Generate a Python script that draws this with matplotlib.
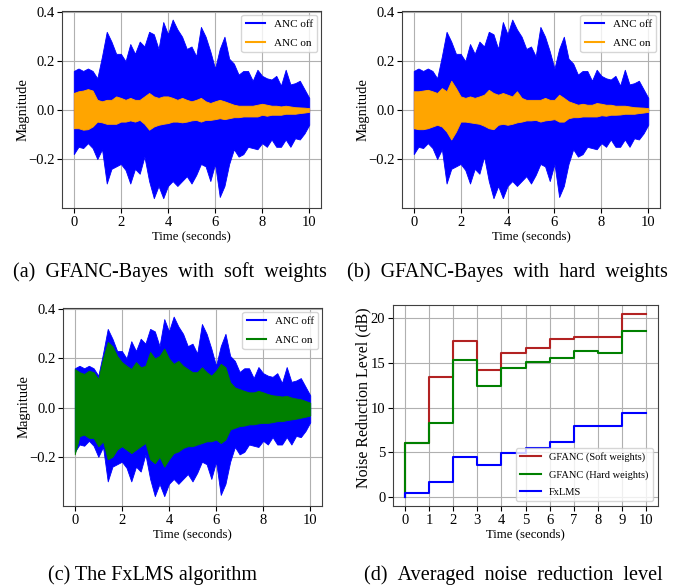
import numpy as np
import matplotlib
matplotlib.use("Agg")
import matplotlib.pyplot as plt
from matplotlib.lines import Line2D

plt.rcParams['font.family'] = ['Liberation Serif', 'DejaVu Serif']

# time grid of the envelope readings (seconds)
t_env = np.linspace(0, 10, 51)

# reference noise (ANC off), upper / lower envelope
off_up = [0.16, 0.17, 0.16, 0.17, 0.16, 0.13, 0.22, 0.32, 0.28, 0.23,
          0.23, 0.20, 0.27, 0.23, 0.28, 0.26, 0.32, 0.31, 0.25, 0.36,
          0.31, 0.37, 0.33, 0.30, 0.25, 0.26, 0.22, 0.34, 0.30, 0.24,
          0.17, 0.25, 0.30, 0.21, 0.19, 0.145, 0.16, 0.16, 0.12, 0.165,
          0.14, 0.13, 0.125, 0.14, 0.10, 0.165, 0.105, 0.11, 0.12, 0.085, 0.05]
off_lo = [-0.18, -0.15, -0.155, -0.135, -0.155, -0.20, -0.16, -0.30, -0.24, -0.23,
          -0.22, -0.245, -0.30, -0.24, -0.26, -0.19, -0.29, -0.36, -0.31, -0.36,
          -0.31, -0.29, -0.31, -0.29, -0.27, -0.30, -0.265, -0.22, -0.23, -0.29,
          -0.22, -0.355, -0.31, -0.22, -0.16, -0.19, -0.18, -0.15, -0.155, -0.16,
          -0.135, -0.15, -0.12, -0.15, -0.15, -0.12, -0.15, -0.115, -0.12, -0.095, -0.06]

# GFANC-Bayes, soft weights (ANC on)
soft_up = [0.070, 0.077, 0.080, 0.086, 0.080, 0.042, 0.036, 0.042, 0.042, 0.056,
           0.050, 0.042, 0.050, 0.042, 0.042, 0.056, 0.070, 0.056, 0.050, 0.056,
           0.056, 0.050, 0.042, 0.050, 0.042, 0.036, 0.042, 0.050, 0.036, 0.029,
           0.036, 0.042, 0.036, 0.029, 0.022, 0.018, 0.018, 0.018, 0.018, 0.022,
           0.026, 0.022, 0.018, 0.018, 0.015, 0.018, 0.015, 0.012, 0.011, 0.010, 0.008]
soft_lo = [-0.074, -0.074, -0.080, -0.078, -0.067, -0.047, -0.050, -0.056, -0.056, -0.056,
           -0.047, -0.047, -0.042, -0.047, -0.040, -0.056, -0.080, -0.067, -0.060, -0.056,
           -0.053, -0.047, -0.047, -0.050, -0.047, -0.042, -0.040, -0.047, -0.040, -0.040,
           -0.037, -0.033, -0.037, -0.033, -0.029, -0.029, -0.026, -0.026, -0.026, -0.026,
           -0.019, -0.023, -0.019, -0.019, -0.019, -0.015, -0.015, -0.015, -0.012, -0.010, -0.007]

# GFANC-Bayes, hard weights (ANC on)
hard_up = [0.077, 0.077, 0.080, 0.083, 0.077, 0.070, 0.090, 0.077, 0.120, 0.090,
           0.056, 0.050, 0.056, 0.050, 0.056, 0.063, 0.083, 0.070, 0.063, 0.070,
           0.063, 0.056, 0.077, 0.050, 0.042, 0.042, 0.042, 0.042, 0.050, 0.042,
           0.042, 0.063, 0.050, 0.036, 0.029, 0.022, 0.026, 0.022, 0.022, 0.029,
           0.026, 0.022, 0.022, 0.018, 0.018, 0.018, 0.015, 0.012, 0.011, 0.010, 0.008]
hard_lo = [-0.074, -0.078, -0.078, -0.074, -0.067, -0.060, -0.067, -0.088, -0.120, -0.088,
           -0.047, -0.047, -0.050, -0.053, -0.056, -0.064, -0.074, -0.078, -0.060, -0.056,
           -0.060, -0.056, -0.050, -0.047, -0.042, -0.042, -0.040, -0.047, -0.042, -0.040,
           -0.037, -0.047, -0.047, -0.033, -0.029, -0.029, -0.026, -0.026, -0.026, -0.026,
           -0.021, -0.023, -0.019, -0.019, -0.018, -0.015, -0.015, -0.015, -0.012, -0.010, -0.007]

# FxLMS (ANC on)
fxlms_up = [0.157, 0.144, 0.137, 0.150, 0.144, 0.116, 0.200, 0.267, 0.250, 0.210,
            0.185, 0.170, 0.157, 0.185, 0.164, 0.170, 0.226, 0.200, 0.210, 0.240,
            0.200, 0.178, 0.190, 0.170, 0.157, 0.144, 0.144, 0.164, 0.144, 0.130,
            0.150, 0.178, 0.164, 0.103, 0.082, 0.075, 0.068, 0.062, 0.062, 0.068,
            0.062, 0.055, 0.050, 0.048, 0.045, 0.048, 0.041, 0.037, 0.034, 0.027, 0.020]
fxlms_lo = [-0.190, -0.116, -0.110, -0.123, -0.123, -0.157, -0.137, -0.210, -0.200, -0.170,
            -0.157, -0.171, -0.185, -0.171, -0.157, -0.144, -0.210, -0.226, -0.200, -0.240,
            -0.210, -0.185, -0.178, -0.164, -0.157, -0.157, -0.150, -0.144, -0.137, -0.137,
            -0.130, -0.144, -0.130, -0.089, -0.082, -0.075, -0.073, -0.068, -0.068, -0.064,
            -0.062, -0.062, -0.059, -0.055, -0.055, -0.051, -0.048, -0.045, -0.041, -0.037, -0.032]

# averaged noise reduction level (dB), one value per second
sec = np.arange(0, 11)
nr_soft = [0, 6.0, 13.36, 17.41, 14.22, 16.1, 16.66, 17.67, 17.86, 17.9, 20.45]
nr_hard = [0, 6.0, 8.29, 15.31, 12.46, 14.37, 15.08, 15.57, 16.32, 16.13, 18.57]
nr_fxlms = [0, 0.45, 1.69, 4.5, 3.6, 4.95, 5.5, 6.12, 7.88, 7.88, 9.42]

W, H = 673, 588
fig = plt.figure(figsize=(W / 100, H / 100), dpi=100)


def px_axes(left, top, right, bottom):
    return fig.add_axes([left / W, 1 - bottom / H, (right - left) / W, (bottom - top) / H])


def style_axes(ax, ylab, ylab_x, ylab_y, ylab_size):
    ax.grid(True, color='#b0b0b0', lw=0.8)
    ax.set_axisbelow(True)
    ax.set_xlabel('Time (seconds)', fontsize=9.2, labelpad=1)
    ax.set_ylabel(ylab, fontsize=ylab_size)
    ax.yaxis.set_label_coords(ylab_x, ylab_y)
    ax.tick_params(labelsize=10.5, pad=2)
    for s in ax.spines.values():
        s.set_color('#404040')


def wave_panel(ax, up, lo, on_col):
    ax.fill_between(t_env, off_lo, off_up, color='blue', lw=0.6, edgecolor='blue')
    ax.fill_between(t_env, lo, up, color=on_col, lw=0.6, edgecolor=on_col)
    ax.set_xlim(-0.5, 10.5)
    ax.set_ylim(-0.40, 0.405)
    ax.set_yticks([-0.2, 0.0, 0.2, 0.4])
    ax.set_yticklabels(['\u22120.2', '0.0', '0.2', '0.4'])
    ax.set_xticks([0, 2, 4, 6, 8, 10])
    style_axes(ax, 'Magnitude', -0.124, 0.5, 10.5)
    handles = [Line2D([], [], color='blue', lw=1.5), Line2D([], [], color=on_col, lw=1.5)]
    ax.legend(handles, ['ANC off', 'ANC on'], loc='upper right', fontsize=8,
              handlelength=1.7, labelspacing=0.8, borderaxespad=0.35)


ax_a = px_axes(62, 11, 321, 208)
wave_panel(ax_a, soft_up, soft_lo, 'orange')
ax_b = px_axes(402, 11, 660, 208)
wave_panel(ax_b, hard_up, hard_lo, 'orange')
ax_c = px_axes(63, 308, 322, 506)
wave_panel(ax_c, fxlms_up, fxlms_lo, 'green')

ax_d = px_axes(393, 305, 658, 506)
ax_d.step(sec, nr_soft, where='pre', color='firebrick', lw=1.5, label='GFANC (Soft weights)')
ax_d.step(sec, nr_hard, where='pre', color='green', lw=1.5, label='GFANC (Hard weights)')
ax_d.step(sec, nr_fxlms, where='pre', color='blue', lw=1.5, label='FxLMS')
ax_d.set_xticks(sec)
ax_d.set_yticks([0, 5, 10, 15, 20])
style_axes(ax_d, 'Noise Reduction Level (dB)', -0.08, 0.54, 11.5)
ax_d.legend(loc='lower right', fontsize=7.5, handlelength=2.0, labelspacing=0.75,
            borderaxespad=0.5)

sp = '\u2002'
cap_kw = dict(ha='center', va='center', fontsize=14.5)
fig.text(170 / W, 1 - 272 / H, sp.join(['(a)', 'GFANC-Bayes', 'with', 'soft', 'weights']), **cap_kw)
fig.text(507 / W, 1 - 272 / H, sp.join(['(b)', 'GFANC-Bayes', 'with', 'hard', 'weights']), **cap_kw)
fig.text(152 / W, 1 - 575 / H, '(c) The FxLMS algorithm', **cap_kw)
fig.text(513 / W, 1 - 575 / H, sp.join(['(d)', 'Averaged', 'noise', 'reduction', 'level']), **cap_kw)

fig.savefig('out.png', dpi=100)
